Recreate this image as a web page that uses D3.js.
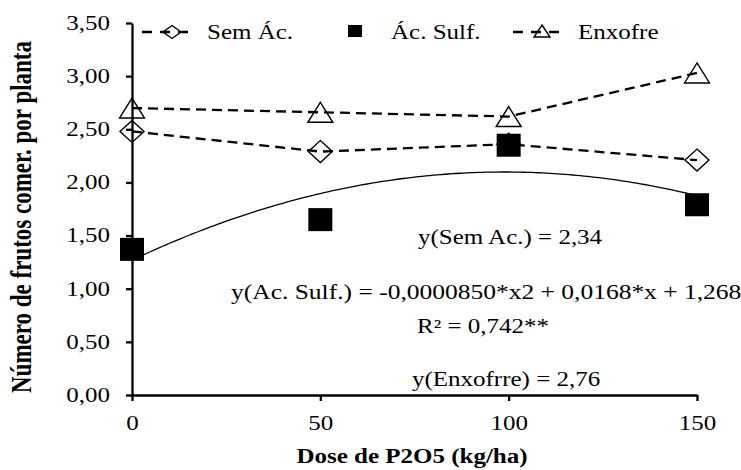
<!DOCTYPE html>
<html>
<head>
<meta charset="utf-8">
<script src="https://cdn.jsdelivr.net/npm/d3@7"></script>
</head>
<body style="margin:0;background:#fff">
<script>
var doses = [0, 50, 100, 150];
var semAc = [2.48, 2.29, 2.36, 2.21];
var acSulf = [1.37, 1.65, 2.35, 1.79];
var enxofre = [2.70, 2.66, 2.62, 3.03];
var yTicks = [0, 0.5, 1, 1.5, 2, 2.5, 3, 3.5];
// Ác. Sulf. fitted quadratic: a + b*x + c*x^2
var coef = [1.268, 0.0168, -0.0000850];

var width = 741, height = 470;
var FONT = "Liberation Serif";
var SX = 1.25; // the picture is stretched sideways

var svg = d3.select("body").append("svg")
    .attr("width", width)
    .attr("height", height);

var x = d3.scaleLinear().domain([0, 150]).range([132, 697]);
var y = d3.scaleLinear().domain([0, 3.5]).range([395, 23]);
var comma = function(d) { return d3.format(".2f")(d).replace(".", ","); };

function addText(g, tx, ty, str, size, anchor, bold) {
  return g.append("text")
    .attr("transform", "translate(" + tx + "," + ty + ") scale(" + SX + ",1)")
    .attr("text-anchor", anchor || "start")
    .style("font-family", FONT)
    .style("font-size", size + "px")
    .style("font-weight", bold ? "bold" : "normal")
    .attr("fill", "#000")
    .text(str);
}

// axes
var yAxis = svg.append("g")
    .attr("transform", "translate(132,0)")
    .call(d3.axisLeft(y).tickValues(yTicks).tickFormat(comma).tickSize(6).tickSizeOuter(0).tickPadding(16));
var xAxis = svg.append("g")
    .attr("transform", "translate(0,395)")
    .call(d3.axisBottom(x).tickValues(doses).tickSize(6).tickSizeOuter(0).tickPadding(15));
[yAxis, xAxis].forEach(function(a) {
  a.select(".domain").attr("stroke", "#000").attr("stroke-width", 2.3);
  a.selectAll(".tick line").attr("stroke", "#000").attr("stroke-width", 2.3);
  a.selectAll(".tick text")
    .style("font-family", FONT)
    .style("font-size", "20px")
    .attr("fill", "#000");
});
yAxis.selectAll(".tick text")
  .attr("x", null)
  .attr("transform", "translate(-22,0) scale(" + SX + ",1)");
xAxis.selectAll(".tick text")
  .attr("transform", "scale(" + SX + ",1)");

// fitted curve
var fitPts = d3.range(0, 150.5, 1).map(function(d) {
  return [d, coef[0] + coef[1] * d + coef[2] * d * d];
});
svg.append("path")
    .datum(fitPts)
    .attr("fill", "none")
    .attr("stroke", "#000")
    .attr("stroke-width", 1.3)
    .attr("d", d3.line().x(function(d) { return x(d[0]); }).y(function(d) { return y(d[1]); }));

// dashed lines
var line = d3.line().x(function(d, i) { return x(doses[i]); }).y(function(d) { return y(d); });
[semAc, enxofre].forEach(function(s) {
  svg.append("path")
      .datum(s)
      .attr("fill", "none")
      .attr("stroke", "#000")
      .attr("stroke-width", 2.3)
      .attr("stroke-dasharray", "10,6")
      .attr("d", line);
});

function diamond(g, cx, cy, w, h) {
  g.append("path")
    .attr("d", "M" + cx + "," + (cy - h) + "L" + (cx + w) + "," + cy + "L" + cx + "," + (cy + h) + "L" + (cx - w) + "," + cy + "Z")
    .attr("fill", "none").attr("stroke", "#000").attr("stroke-width", 1.4);
}
function triangle(g, cx, cy, w, h) {
  g.append("path")
    .attr("d", "M" + cx + "," + (cy - h) + "L" + (cx + w) + "," + (cy + h) + "L" + (cx - w) + "," + (cy + h) + "Z")
    .attr("fill", "none").attr("stroke", "#000").attr("stroke-width", 1.4);
}
function square(g, cx, cy, w, h) {
  g.append("rect")
    .attr("x", cx - w).attr("y", cy - h).attr("width", 2 * w).attr("height", 2 * h)
    .attr("fill", "#000");
}

var marks = svg.append("g");
semAc.forEach(function(d, i) { diamond(marks, x(doses[i]), y(d), 12, 11); });
enxofre.forEach(function(d, i) { triangle(marks, x(doses[i]), y(d), 12.5, 10); });
acSulf.forEach(function(d, i) { square(marks, x(doses[i]), y(d), 12, 11.5); });

// legend
var leg = svg.append("g");
function legLine(x1, x2, yy) {
  leg.append("line").attr("x1", x1).attr("x2", x2).attr("y1", yy).attr("y2", yy)
    .attr("stroke", "#000").attr("stroke-width", 2.3).attr("stroke-dasharray", "10,8");
}
legLine(142, 192, 32);
diamond(leg, 172, 32, 9, 6.5);
addText(leg, 207, 39, "Sem Ác.", 20);
square(leg, 355, 31, 7, 6);
addText(leg, 391, 39, "Ác. Sulf.", 20);
legLine(513, 563, 32);
triangle(leg, 542, 31, 8, 6);
addText(leg, 578, 39, "Enxofre", 20);

// equations
var eq = svg.append("g");
addText(eq, 418, 244, "y(Sem Ac.) = 2,34", 20);
addText(eq, 231, 299, "y(Ac. Sulf.) = -0,0000850*x2 + 0,0168*x + 1,268", 20.4);
addText(eq, 417, 333, "R² = 0,742**", 20);
addText(eq, 412, 386, "y(Enxofrre) = 2,76", 20);

// axis titles
addText(svg, 412, 463, "Dose de P2O5 (kg/ha)", 20, "middle", true);
svg.append("text")
    .attr("transform", "translate(31,217) scale(" + SX + ",1) rotate(-90)")
    .attr("text-anchor", "middle")
    .style("font-family", FONT)
    .style("font-size", "23px")
    .style("font-weight", "bold")
    .attr("fill", "#000")
    .text("Número de frutos  comer. por planta");
</script>
</body>
</html>
